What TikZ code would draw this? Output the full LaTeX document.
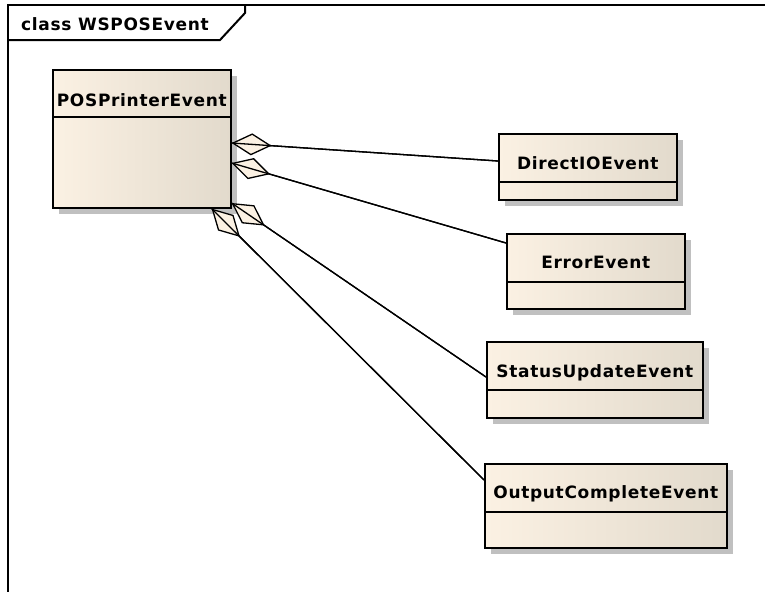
\documentclass[tikz,border=0pt]{standalone}
\usepackage{fontspec}
\setmainfont{DejaVu Sans}[LetterSpace=4]
\usetikzlibrary{arrows.meta,calc,shadows}

\definecolor{umlhell}{RGB}{251,241,227}
\definecolor{umldunkel}{RGB}{226,218,204}
\definecolor{umlschatten}{RGB}{192,192,192}

\begin{document}
\begin{tikzpicture}[x=1pt,y=-1pt,font=\bfseries\fontsize{17}{19}\selectfont]
\tikzset{
    %Define style for class boxes
    klasse/.style={
           rectangle,
           draw=black, line width=1.6pt,
           anchor=north west,
           left color=umlhell, middle color=umlhell, right color=umldunkel,
           drop shadow={shadow xshift=6pt,shadow yshift=-6pt,
                        fill=umlschatten,opacity=1}},
    % Define style for class names
    titel/.style={anchor=base, inner sep=0pt},
    trenn/.style={line width=1.6pt},
    rahmen/.style={line width=2pt},
    % Define aggregation style
    aggr/.style={
           line width=1.3pt,
           {Diamond[length=40pt,width=22pt,fill=umlhell,line width=1.3pt]}-},
    linie/.style={line width=1.3pt}
}
	\useasboundingbox (0,0) rectangle (765,592);

 %frame
	\draw[rahmen] (765,5) -- (8,5) -- (8,592);
	\draw[rahmen] (8,40) -- (220,40) -- (245,13) -- (245,5);
	\node[titel] (rahmentitel) at (115,30) {class WSPOSEvent};

 %classes
	\node[klasse, minimum width=178pt, minimum height=138pt] (pos) at (52,69) {};
	\node[titel] (posname) at (pos.north |- 0,106) {POSPrinterEvent};
	\draw[trenn] ($(pos.north west)+(0,48)$) -- ($(pos.north east)+(0,48)$);

	\node[klasse, minimum width=178pt, minimum height=66pt] (dio) at (498,133) {};
	\node[titel] (dioname) at (dio.north |- 0,169) {DirectIOEvent};
	\draw[trenn] ($(dio.north west)+(0,49)$) -- ($(dio.north east)+(0,49)$);

	\node[klasse, minimum width=178pt, minimum height=75pt] (err) at (506,233) {};
	\node[titel] (errname) at (err.north |- 0,268) {ErrorEvent};
	\draw[trenn] ($(err.north west)+(0,49)$) -- ($(err.north east)+(0,49)$);

	\node[klasse, minimum width=216pt, minimum height=76pt] (sta) at (486,341) {};
	\node[titel] (staname) at (sta.north |- 0,377) {StatusUpdateEvent};
	\draw[trenn] ($(sta.north west)+(0,49)$) -- ($(sta.north east)+(0,49)$);

	\node[klasse, minimum width=242pt, minimum height=84pt] (out) at (484,463) {};
	\node[titel] (outname) at (out.north |- 0,498) {OutputCompleteEvent};
	\draw[trenn] ($(out.north west)+(0,49)$) -- ($(out.north east)+(0,49)$);

 %aggregations
	\draw[aggr] ($(pos.north east)+(0,74)$) -- ($(dio.north west)+(0,28)$);
	\draw[linie] ($(pos.north east)+(0,74)$) -- ($(dio.north west)+(0,28)$);
	\draw[aggr] ($(pos.north east)+(0,94)$) -- ($(err.north west)+(0,10)$);
	\draw[linie] ($(pos.north east)+(0,94)$) -- ($(err.north west)+(0,10)$);
	\draw[aggr] ($(pos.north east)+(0,134)$) -- ($(sta.north west)+(0,36)$);
	\draw[linie] ($(pos.north east)+(0,134)$) -- ($(sta.north west)+(0,36)$);
	\draw[aggr] ($(pos.south east)+(-20,0)$) -- ($(out.north west)+(0,17)$);
	\draw[linie] ($(pos.south east)+(-20,0)$) -- ($(out.north west)+(0,17)$);

\end{tikzpicture}
\end{document}
